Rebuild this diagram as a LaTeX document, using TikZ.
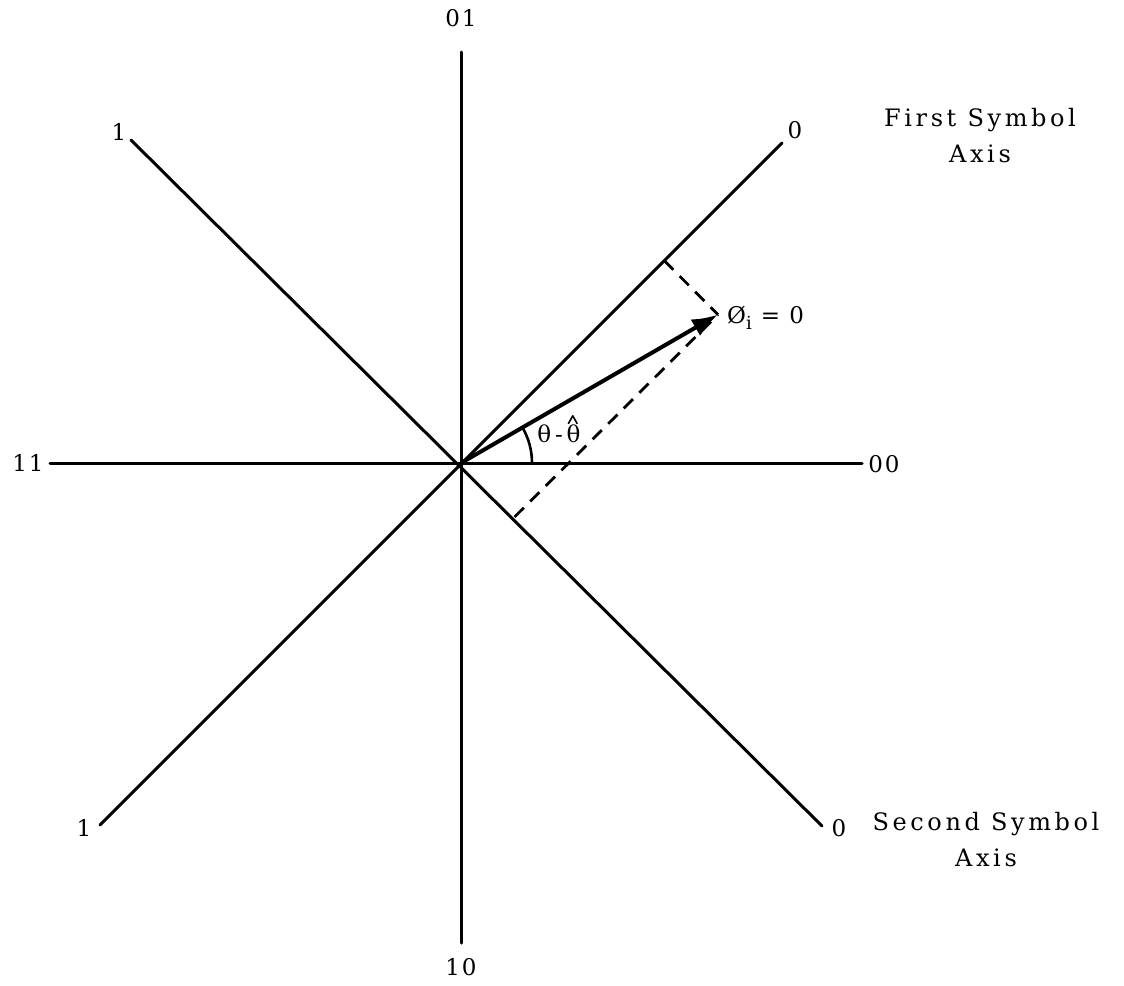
\documentclass[tikz,border=0pt]{standalone}
\usepackage{fontspec}
\setmainfont{DejaVu Serif}[LetterSpace=8]
\newfontfamily\wordfont{DejaVu Serif}[LetterSpace=15]
\usetikzlibrary{arrows.meta,calc}
\begin{document}
\begin{tikzpicture}[x=1pt,y=-1pt,
  axisline/.style={line width=3pt,line cap=round},
  vecline/.style={line width=4pt,-{Latex[length=26pt,width=19pt]}},
  dsh/.style={line width=2.8pt,dash pattern=on 13pt off 9pt},
  lbl/.style={font=\fontsize{23}{27}\selectfont,inner sep=0pt},
  wordlbl/.style={font=\wordfont\fontsize{24}{36}\selectfont,inner sep=0pt,align=center,anchor=north}]
\useasboundingbox (0,0) rectangle (1124,985);
\coordinate (O) at (461,463);
\coordinate (N) at (461,52);
\coordinate (S) at (461,943);
\coordinate (W) at (50,463);
\coordinate (E) at (862,463);
\coordinate (UR) at (782,143);
\coordinate (LL) at (100,825);
\coordinate (UL) at (131,140);
\coordinate (LR) at (822,826);
\coordinate (T) at (718,314.6);
\draw[axisline] (N) -- (S);
\draw[axisline] (W) -- (E);
\draw[axisline] (UR) -- (LL);
\draw[axisline] (UL) -- (LR);
\coordinate (F1) at ($(O)!(T)!(UR)$);
\coordinate (F2) at ($(O)!(T)!(LR)$);
\draw[dsh] (F1) -- (T);
\draw[dsh] (F2) -- (T);
\draw[vecline] (O) -- (T);
\draw[line width=2.6pt] ($(O)+(71,0)$) arc (0:-30:71);
\node[lbl] (n01) at (461,18) {01};
\node[lbl] (n10) at (461,967) {10};
\node[lbl] (n11) at (28,463) {11};
\node[lbl] (n00) at (884,464) {00};
\node[lbl] (nUL) at (119,132) {1};
\node[lbl] (nUR) at (795,130) {0};
\node[lbl] (nLL) at (84,828) {1};
\node[lbl] (nLR) at (839,828) {0};
\node[wordlbl] (first) at (980,108) {First Symbol\\Axis};
\node[wordlbl] (second) at (986,812) {Second Symbol\\Axis};
\node[lbl,anchor=west] (phi) at (727,318) {Ø\raisebox{-6pt}{\fontsize{18}{20}\selectfont i} = 0};
\node[lbl] (ang) at (559,434) {θ\,-\,θ};
\coordinate (hatc) at ($(ang.north east)+(-8,-5)$);
\draw[line width=1.6pt,line join=round] ($(hatc)+(-4.5,4)$) -- ($(hatc)+(0,-4)$) -- ($(hatc)+(4.5,4)$);
\end{tikzpicture}
\end{document}
